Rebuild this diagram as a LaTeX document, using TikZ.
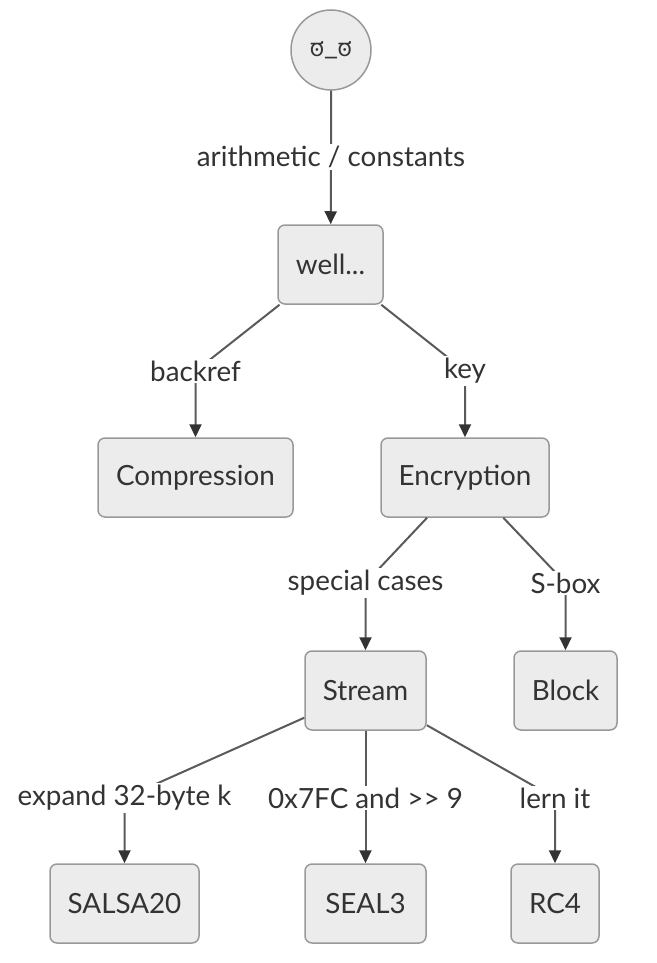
\documentclass[tikz,border=0pt]{standalone}
\usepackage{fontspec}
\setmainfont{Lato}
\newfontfamily\kannadafont[Script=Kannada]{Hind Mysuru}
\usetikzlibrary{arrows.meta}
\definecolor{boxfill}{HTML}{ECECEC}
\definecolor{boxline}{HTML}{999999}
\definecolor{edgecol}{HTML}{5A5A5A}
\definecolor{tipcol}{HTML}{333333}
\definecolor{txt}{HTML}{333333}
\tikzset{
  box/.style={draw=boxline, fill=boxfill, line width=1.5pt, rounded corners=7pt,
    minimum height=79pt, inner sep=0pt, text=txt, font=\fontsize{27.8}{32}\selectfont},
  face/.style={circle, draw=boxline, fill=boxfill, line width=1.5pt, minimum size=80pt,
    inner sep=0pt, text=txt, font=\kannadafont\fontsize{24}{28}\selectfont},
  lbl/.style={fill=white, inner sep=2pt, text=txt, font=\fontsize{27.8}{32}\selectfont},
  edge/.style={draw=edgecol, line width=2pt,
    -{Triangle[length=13pt,width=12pt,fill=tipcol,color=tipcol]}},
}
\begin{document}
\begin{tikzpicture}[x=1pt,y=-1pt]
\useasboundingbox (0,0) rectangle (656,963);
% nodes
\node[face] (top) at (331,50) {ಠ\_ಠ};
\node[box, minimum width=105pt] (well) at (330.5,264.5) {well...};
\node[box, minimum width=195pt] (comp) at (195.5,477.5) {Compression};
\node[box, minimum width=168pt] (enc) at (465,477.5) {Encryption};
\node[box, minimum width=121pt] (stream) at (365.5,690.5) {Stream};
\node[box, minimum width=103pt] (block) at (565.5,690.5) {Block};
\node[box, minimum width=149pt] (salsa) at (124.5,903.5) {SALSA20};
\node[box, minimum width=121pt] (seal) at (365.5,903.5) {SEAL3};
\node[box, minimum width=88pt] (rc4) at (555,903.5) {RC4};
% label points
\coordinate (l0) at (331,157);
\coordinate (l1) at (195.5,371);
\coordinate (l2) at (465,371);
\coordinate (l3) at (365.5,583);
\coordinate (l4) at (565.5,583);
\coordinate (l5) at (124.5,798);
\coordinate (l6) at (365.5,798);
\coordinate (l7) at (555,798);
% edges
\draw[edge] (top) -- (l0) -- (well);
\draw[edge] (well) -- (l1) -- (comp);
\draw[edge] (well) -- (l2) -- (enc);
\draw[edge] (enc) -- (l3) -- (stream);
\draw[edge] (enc) -- (l4) -- (block);
\draw[edge] (stream) -- (l5) -- (salsa);
\draw[edge] (stream) -- (l6) -- (seal);
\draw[edge] (stream) -- (l7) -- (rc4);
% labels
\node[lbl] (t0) at (l0) {arithmetic / constants};
\node[lbl] (t1) at (l1) {backref};
\node[lbl] (t2) at (l2) {key};
\node[lbl] (t3) at (l3) {special cases};
\node[lbl] (t4) at (l4) {S-box};
\node[lbl] (t5) at (l5) {expand 32-byte k};
\node[lbl] (t6) at (l6) {0x7FC and >{}> 9};
\node[lbl] (t7) at (l7) {lern it};
\end{tikzpicture}
\end{document}
